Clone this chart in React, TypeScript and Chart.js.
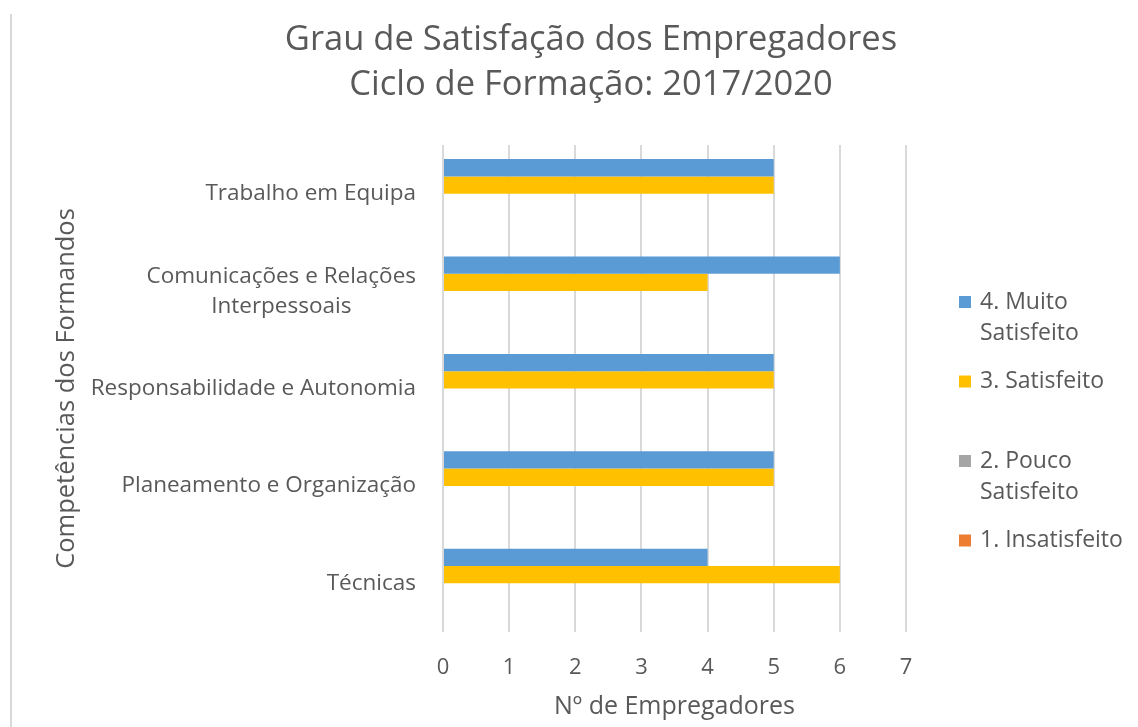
import React, { useEffect, useRef } from "react";
import { Chart, registerables } from "chart.js";

Chart.register(...registerables);

const titleLines = ["Grau de Satisfação dos Empregadores", "Ciclo de Formação: 2017/2020"];
const categoryLabels = [
  ["Trabalho em Equipa"],
  ["Comunicações e Relações", "Interpessoais"],
  ["Responsabilidade e Autonomia"],
  ["Planeamento e Organização"],
  ["Técnicas"],
];
const seriesNames = ["4. Muito Satisfeito", "3. Satisfeito", "2. Pouco Satisfeito", "1. Insatisfeito"];
const legendLines = [["4. Muito", "Satisfeito"], ["3. Satisfeito"], ["2. Pouco", "Satisfeito"], ["1. Insatisfeito"]];
const muitoSatisfeito = [5, 6, 5, 5, 4];
const satisfeito = [5, 4, 5, 5, 6];
const poucoSatisfeito = [0, 0, 0, 0, 0];
const insatisfeito = [0, 0, 0, 0, 0];
const seriesColors = ["#5B9BD5", "#FFC000", "#A5A5A5", "#ED7D31"];
const xMin = 0;
const xMax = 7;
const xTitle = "Nº de Empregadores";
const yTitle = "Competências dos Formandos";

const TEXT = "#595959";
const FONT = "'Open Sans', sans-serif";

const customText = {
  id: "customText",
  beforeDraw(chart: any) {
    const ctx = chart.ctx;
    ctx.save();
    ctx.fillStyle = "#ffffff";
    ctx.fillRect(0, 0, chart.width, chart.height);
    ctx.strokeStyle = "#d9d9d9";
    ctx.lineWidth = 2;
    ctx.beginPath();
    ctx.moveTo(11, 14);
    ctx.lineTo(11, chart.height);
    ctx.stroke();
    ctx.restore();
  },
  afterDraw(chart: any) {
    const ctx = chart.ctx;
    ctx.save();
    ctx.fillStyle = TEXT;
    // title
    ctx.font = `34.5px ${FONT}`;
    ctx.textAlign = "center";
    ctx.textBaseline = "alphabetic";
    titleLines.forEach((t, i) => ctx.fillText(t, 591, 50 + i * 45));
    // category labels
    const ys = chart.scales.y;
    ctx.font = `22.5px ${FONT}`;
    ctx.textBaseline = "middle";
    categoryLabels.forEach((lines, i) => {
      const py = ys.getPixelForValue(i);
      const maxW = Math.max(...lines.map((l) => ctx.measureText(l).width));
      const cx = ys.right - 27 - maxW / 2;
      lines.forEach((l, j) => ctx.fillText(l, cx, py + (j - (lines.length - 1) / 2) * 30));
    });
    // legend
    const lx = chart.chartArea.right + 53;
    ctx.font = `23px ${FONT}`;
    legendLines.forEach((lines, i) => {
      const ty = 302 + i * 79.5;
      ctx.fillStyle = seriesColors[i];
      ctx.fillRect(lx, ty - 6, 12, 12);
      ctx.fillStyle = TEXT;
      ctx.textAlign = "left";
      lines.forEach((l, j) => ctx.fillText(l, lx + 21, ty + j * 31));
    });
    ctx.restore();
  },
};

export default function App() {
  const ref = useRef<HTMLCanvasElement>(null);
  useEffect(() => {
    document.body.style.margin = "0";
    const values = [muitoSatisfeito, satisfeito, poucoSatisfeito, insatisfeito];
    const chart = new Chart(ref.current as HTMLCanvasElement, {
      type: "bar",
      data: {
        labels: categoryLabels.map((l) => l.join(" ")),
        datasets: seriesNames.map((name, i) => ({
          label: name,
          data: values[i],
          backgroundColor: seriesColors[i],
          borderWidth: 0,
          categoryPercentage: 0.71,
          barPercentage: 1,
        })),
      },
      options: {
        indexAxis: "y",
        responsive: false,
        animation: false,
        layout: { padding: { top: 145, right: 232, left: 0, bottom: 0 } },
        plugins: {
          legend: { display: false },
          title: { display: false },
          tooltip: { enabled: false },
        },
        scales: {
          x: {
            min: xMin,
            max: xMax,
            ticks: { stepSize: 1, color: TEXT, font: { size: 22, family: FONT }, padding: 23 },
            grid: { color: "#d9d9d9", lineWidth: 2, drawTicks: false },
            border: { display: false },
            title: {
              display: true,
              text: xTitle,
              color: TEXT,
              font: { size: 25, family: FONT },
              padding: { top: 0, bottom: 5 },
            },
            afterFit: (s: any) => {
              s.height = 95;
            },
          },
          y: {
            ticks: { display: false },
            grid: { display: false },
            border: { display: false },
            title: {
              display: true,
              text: yTitle,
              color: TEXT,
              font: { size: 25.5, family: FONT },
              padding: { top: 51, bottom: 0 },
            },
            afterFit: (s: any) => {
              s.width = 443;
            },
          },
        },
      } as any,
      plugins: [customText],
    });
    return () => chart.destroy();
  }, []);
  return (
    <div style={{ width: 1138, height: 727, position: "relative", background: "#fff" }}>
      <canvas ref={ref} width={1138} height={727} />
    </div>
  );
}
